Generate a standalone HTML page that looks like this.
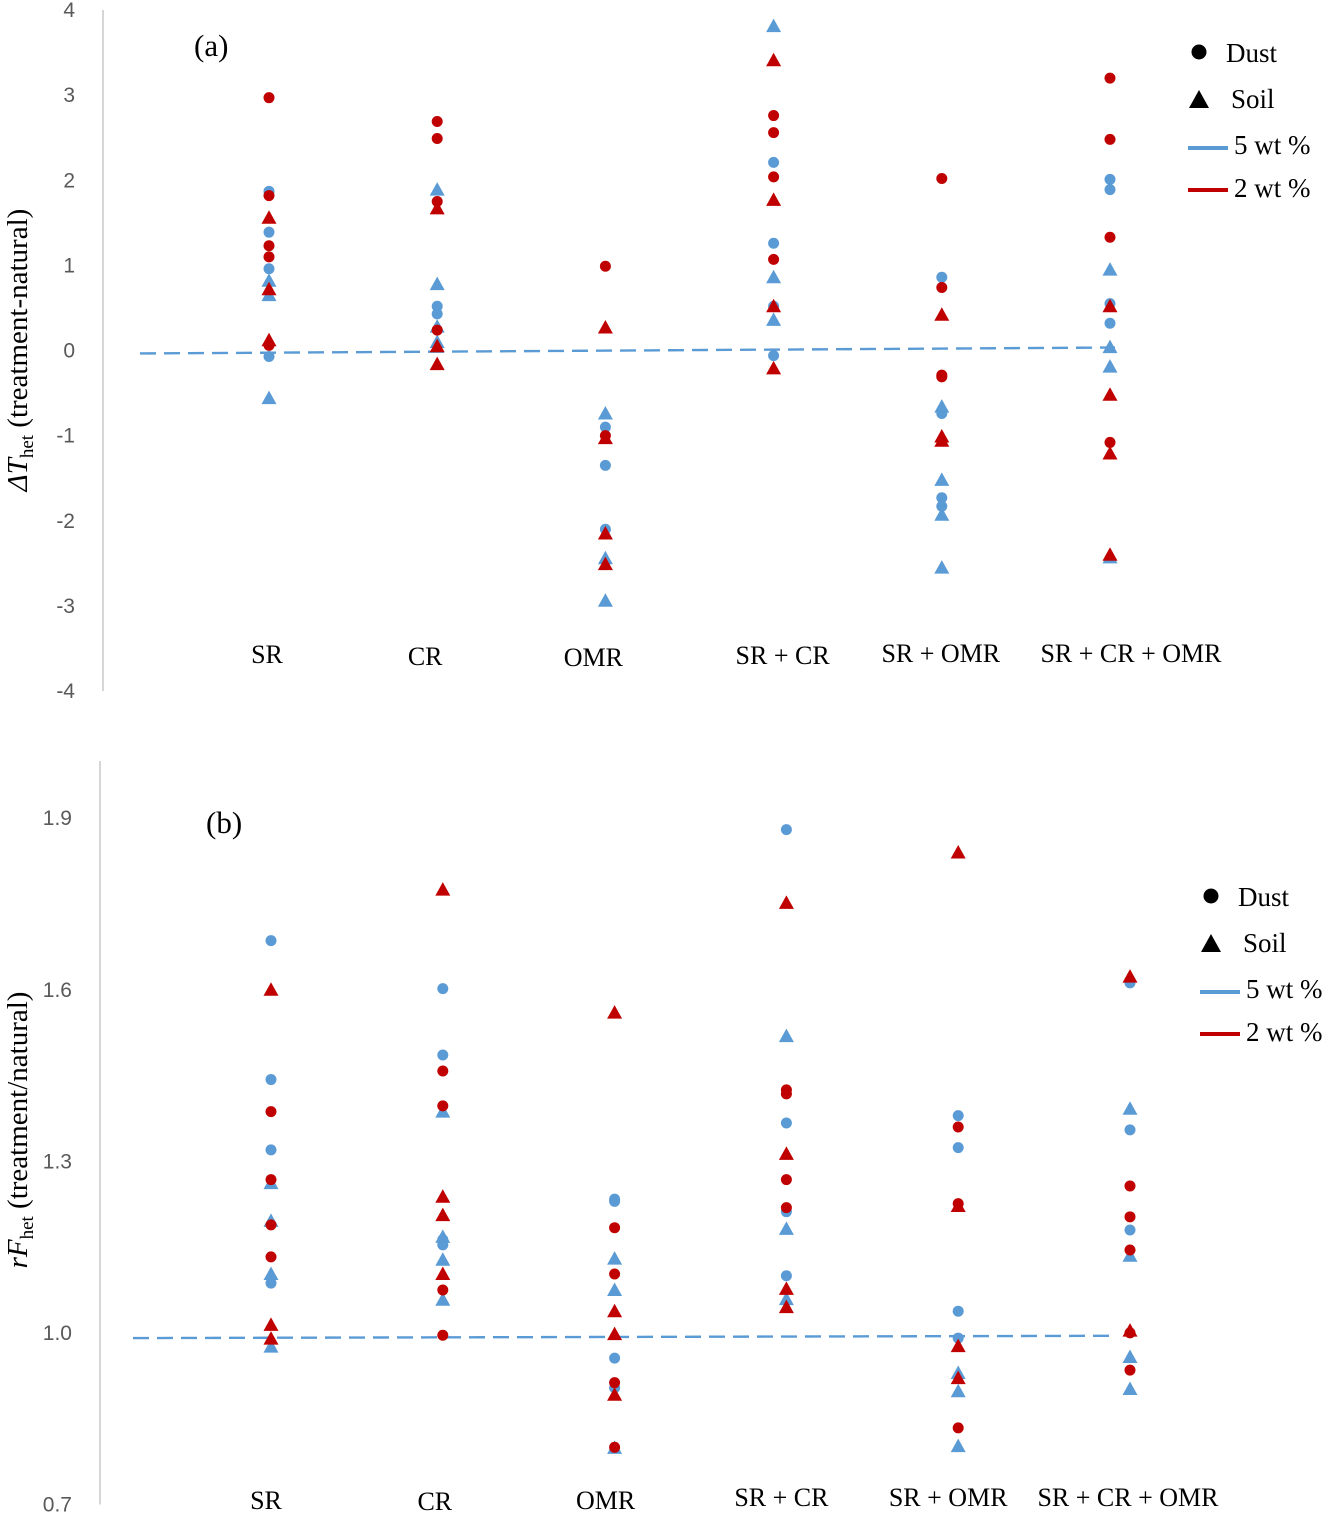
<!DOCTYPE html>
<html><head><meta charset="utf-8"><style>
body{margin:0;background:#fff}
svg{display:block}
</style></head><body>
<svg id="chart" width="1329" height="1515" xmlns="http://www.w3.org/2000/svg"></svg>
<script>
const categories = ["SR","CR","OMR","SR + CR","SR + OMR","SR + CR + OMR"];
// Panel (a)
const aTicks = [4,3,2,1,0,-1,-2,-3,-4];
const aDust5 = [[1.87,1.39,0.96,-0.07],[0.52,0.43],[-0.9,-1.35,-2.1],[2.21,1.26,0.52,-0.06],[0.86,-0.74,-1.73,-1.83],[2.01,1.89,0.55,0.32]];
const aDust2 = [[2.97,1.82,1.23,1.10,0.06],[2.69,2.49,1.75,0.24],[0.99,-1.0],[2.76,2.56,2.04,1.07],[2.02,0.74,-0.29,-0.31],[3.2,2.48,1.33,-1.08]];
const aSoil5 = [[0.82,0.65,-0.56],[1.89,0.78,0.28,0.1],[-0.74,-2.44,-2.94],[3.81,0.86,0.36],[-0.66,-1.52,-1.93,-2.55],[0.95,0.04,-0.19,-2.43]];
const aSoil2 = [[1.56,0.72,0.12],[1.67,0.05,-0.16],[0.27,-1.03,-2.15,-2.51],[3.41,1.77,0.52,-0.21],[0.42,-1.01,-1.06],[0.52,-0.52,-1.21,-2.4]];
const aTrend = [-0.035,0.035];
// Panel (b)
const bTicks = [1.9,1.6,1.3,1.0,0.7];
const bDust5 = [[1.686,1.443,1.32,1.087],[1.602,1.486,1.163,1.154],[1.234,1.23,0.956,0.904],[1.88,1.367,1.212,1.1],[1.38,1.324,1.038,0.991],[1.612,1.355,1.18]];
const bDust2 = [[1.387,1.268,1.189,1.133],[1.458,1.397,1.075,0.996],[1.184,1.103,0.913,0.80],[1.425,1.418,1.268,1.219],[1.36,1.226,0.834],[1.257,1.203,1.145,1.0,0.935]];
const bSoil5 = [[1.262,1.196,1.103,0.976],[1.387,1.168,1.128,1.058],[1.13,1.075,0.799],[1.519,1.182,1.059],[0.93,0.898,0.802],[1.392,1.135,0.958,0.902]];
const bSoil2 = [[1.6,1.014,0.99],[1.775,1.238,1.206,1.103],[1.56,1.038,0.998,0.892],[1.752,1.313,1.077,1.045],[1.84,1.222,0.977,0.921],[1.623,1.004]];
const bTrend = [0.991,0.995];

const NS="http://www.w3.org/2000/svg";
const svg=document.getElementById('chart');
const BLUE="#5B9BD5", RED="#C00000";
function mk(tag,attrs,parent){const e=document.createElementNS(NS,tag);for(const k in attrs)e.setAttribute(k,attrs[k]);(parent||svg).appendChild(e);return e;}

function panel(cfg){
  const g=mk('g',{});
  
  
  const y=v=>cfg.y0+(cfg.vTop-v)*(cfg.y1-cfg.y0)/(cfg.vTop-cfg.vBot);
  const x=i=>cfg.x0+i*cfg.dx;
  const ax=mk('line',{x1:cfg.axisX,x2:cfg.axisX,y1:cfg.y0,y2:cfg.y1,stroke:'#bfbfbf','stroke-width':1.3},g);
  
  
  cfg.ticks.forEach(t=>{
    const tx=mk('text',{x:cfg.axisX-28,y:y(t)+7,'text-anchor':'end','font-family':'Liberation Sans, sans-serif','font-size':21,fill:'#595959'},g);
    tx.textContent=cfg.fmt(t);
    
    
  });
  categories.forEach((c,i)=>{
    const tx=mk('text',{x:x(i)+cfg.labDx[i],y:cfg.labY[i],'text-anchor':'middle','font-family':'Liberation Serif, serif','font-size':26,fill:'#000'},g);
    tx.textContent=c;
    
    
  });
  const tl=mk('line',{x1:cfg.trendX[0],x2:cfg.trendX[1],y1:y(cfg.trend[0]),y2:y(cfg.trend[1]),stroke:BLUE,'stroke-width':2.4,'stroke-dasharray':'16,8'},g);
  
  
  function dots(arr,col,name){arr.forEach((vs,i)=>vs.forEach(v=>{
    const c=mk('circle',{cx:x(i),cy:y(v),r:5.5,fill:col},g);
    
    
  }));}
  function tris(arr,col,name){arr.forEach((vs,i)=>vs.forEach(v=>{
    const cx=x(i),cy=y(v);
    const p=mk('polygon',{points:`${cx-7.5},${cy+6} ${cx+7.5},${cy+6} ${cx},${cy-7.5}`,fill:col},g);
    
    
  }));}
  tris(cfg.s5,BLUE,'soil-5wt-point');
  dots(cfg.d5,BLUE,'dust-5wt-point');
  tris(cfg.s2,RED,'soil-2wt-point');
  dots(cfg.d2,RED,'dust-2wt-point');
  const pl=mk('text',{x:cfg.plX,y:cfg.plY,'font-family':'Liberation Serif, serif','font-size':31},g);
  pl.textContent=cfg.label;
  
  
  const L=cfg.leg;
  const lg=mk('g',{},g);
  
  
  const ld=mk('circle',{cx:L.x,cy:L.y,r:7.5,fill:'#000'},lg);
  
  
  const lt=mk('polygon',{points:`${L.x-10},${L.y+56} ${L.x+10},${L.y+56} ${L.x},${L.y+38}`,fill:'#000'},lg);
  
  
  const b=mk('line',{x1:L.x-11,x2:L.x+29,y1:L.y+96,y2:L.y+96,stroke:BLUE,'stroke-width':4},lg);
  
  
  const r=mk('line',{x1:L.x-11,x2:L.x+29,y1:L.y+138,y2:L.y+138,stroke:RED,'stroke-width':4},lg);
  
  
  [["Dust",L.x+27,L.y+10],["Soil",L.x+32,L.y+56],["5 wt %",L.x+35,L.y+102],["2 wt %",L.x+35,L.y+145]].forEach(([t,tx,ty])=>{
    const e=mk('text',{x:tx,y:ty,'font-family':'Liberation Serif, serif','font-size':27},lg);
    e.textContent=t;
    
    
  });
  const yt=mk('text',{transform:`translate(${cfg.ytX},${cfg.ytY}) rotate(-90)`,'text-anchor':'middle','font-family':'Liberation Serif, serif','font-size':29},g);
  yt.innerHTML=cfg.ytitle;
  
  
}

panel({name:'panel-a',y0:10,y1:691,vTop:4,vBot:-4,axisX:103,x0:269,dx:168.2,ticks:aTicks,fmt:t=>String(t),
  labDx:[-2,-12,-12,9,-1,21],labY:[663,665,666,664,662,662],trend:aTrend,trendX:[140,1115],
  d5:aDust5,d2:aDust2,s5:aSoil5,s2:aSoil2,label:'(a)',plX:194,plY:56,leg:{x:1199,y:52},
  ytX:27,ytY:350,ytitle:'<tspan font-style="italic">ΔT</tspan><tspan font-size="19" dy="6">het</tspan><tspan dy="-6"> (treatment-natural)</tspan>'});
panel({name:'panel-b',y0:761,y1:1504.5,vTop:2.0,vBot:0.7,axisX:100,x0:271,dx:171.8,ticks:bTicks,fmt:t=>t.toFixed(1),
  labDx:[-5,-8,-9,-5,-10,-2],labY:[1509,1510,1509,1506,1506,1506],trend:bTrend,trendX:[133,1115],
  d5:bDust5,d2:bDust2,s5:bSoil5,s2:bSoil2,label:'(b)',plX:206,plY:833,leg:{x:1211,y:896},
  ytX:27,ytY:1130,ytitle:'<tspan font-style="italic">rF</tspan><tspan font-size="19" dy="6">het</tspan><tspan dy="-6"> (treatment/natural)</tspan>'});
</script>
</body></html>
